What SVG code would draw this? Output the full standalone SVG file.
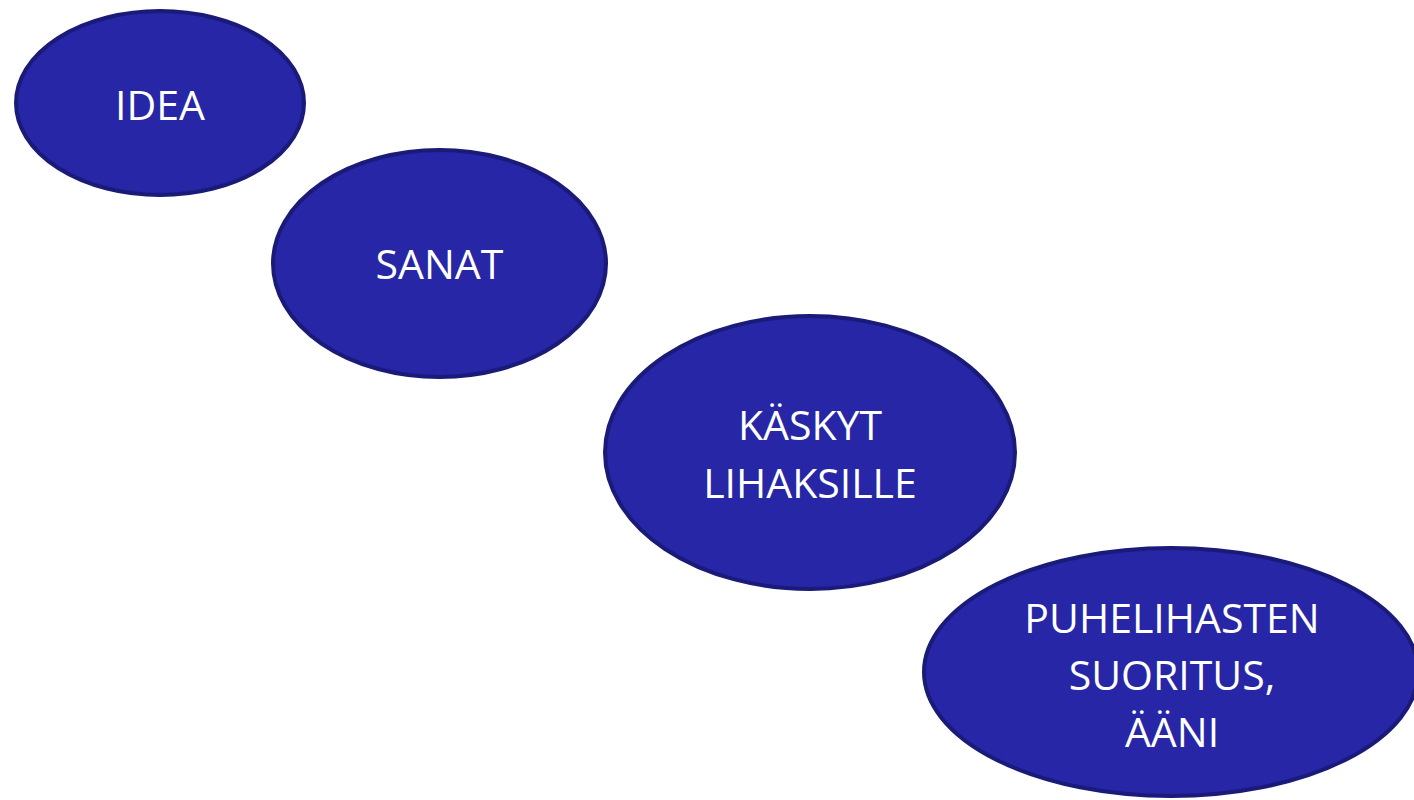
<svg xmlns="http://www.w3.org/2000/svg" width="1414" height="800" viewBox="0 0 1414 800">
<style>
.node ellipse{fill:#2626A6;stroke:#1A1A78;stroke-width:4}
.node text{fill:#FFFFFF;font-family:"Open Sans","Liberation Sans",sans-serif;font-size:41px;text-anchor:middle}
</style>
<rect width="1414" height="800" fill="#FFFFFF"/>
<g id="connectors"></g>
<g id="idea" class="node">
<ellipse cx="160" cy="103" rx="144" ry="92"/>
<text x="160" y="120">IDEA</text>
</g>
<g id="sanat" class="node">
<ellipse cx="439.5" cy="263.5" rx="166.5" ry="113.5"/>
<text x="439.5" y="279">SANAT</text>
</g>
<g id="kaskyt" class="node">
<ellipse cx="810" cy="452.5" rx="205" ry="136.5"/>
<text x="810" y="440">KÄSKYT</text>
<text x="810" y="498">LIHAKSILLE</text>
</g>
<g id="puhelihasten" class="node">
<ellipse cx="1171" cy="672" rx="247" ry="124"/>
<text x="1172" y="633">PUHELIHASTEN</text>
<text x="1172" y="690">SUORITUS,</text>
<text x="1172" y="747">ÄÄNI</text>
</g>
</svg>
